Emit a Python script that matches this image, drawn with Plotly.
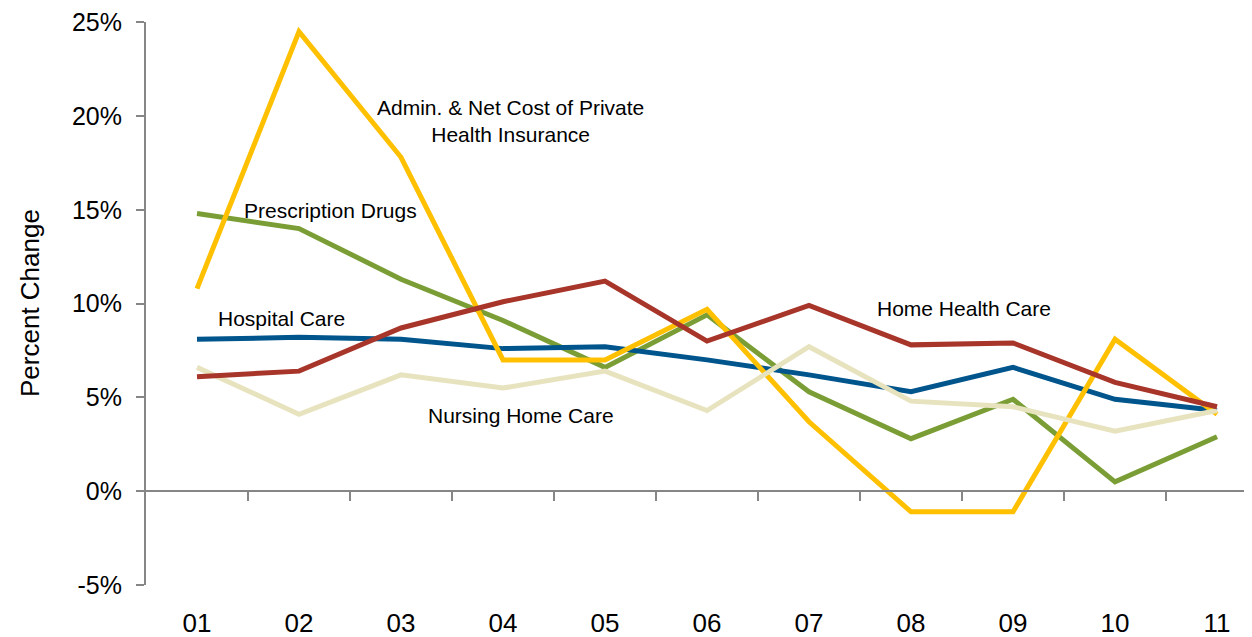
import plotly.graph_objects as go

years = ["01", "02", "03", "04", "05", "06", "07", "08", "09", "10", "11"]
hospital_care = [8.1, 8.2, 8.1, 7.6, 7.7, 7.0, 6.2, 5.3, 6.6, 4.9, 4.3]
home_health = [6.1, 6.4, 8.7, 10.1, 11.2, 8.0, 9.9, 7.8, 7.9, 5.8, 4.5]
prescription_drugs = [14.8, 14.0, 11.3, 9.1, 6.6, 9.4, 5.3, 2.8, 4.9, 0.5, 2.9]
admin_insurance = [10.8, 24.5, 17.8, 7.0, 7.0, 9.7, 3.7, -1.1, -1.1, 8.1, 4.1]
nursing_home = [6.6, 4.1, 6.2, 5.5, 6.4, 4.3, 7.7, 4.8, 4.5, 3.2, 4.3]

y_ticks = [-5, 0, 5, 10, 15, 20, 25]
y_ticktext = ["-5%", "0%", "5%", "10%", "15%", "20%", "25%"]

FONT = "Liberation Sans, Arial, sans-serif"
AXIS_GRAY = "#868686"

series = [
    ("Prescription Drugs", prescription_drugs, "#7A9E35"),
    ("Hospital Care", hospital_care, "#00558C"),
    ("Admin. & Net Cost of Private Health Insurance", admin_insurance, "#FFC000"),
    ("Nursing Home Care", nursing_home, "#E8E3BF"),
    ("Home Health Care", home_health, "#A8352A"),
]

xs = list(range(len(years)))
fig = go.Figure()
for name, vals, color in series:
    fig.add_trace(go.Scatter(x=xs, y=vals, mode="lines", name=name,
                             line=dict(color=color, width=5), showlegend=False))

# invisible trace to carry the zero-line axis with between-category ticks
fig.add_trace(go.Scatter(x=xs, y=hospital_care, xaxis="x2", mode="lines",
                         opacity=0, showlegend=False, hoverinfo="skip"))

# page body has an 8px margin, so the figure is drawn at (8, 8)
OFF = 8
L, T, B = 146 - OFF, 22 - OFF, 52
W, H = 1252 - OFF, 637 - OFF
PW, PH = W - L, H - T - B

x_range = [-0.5, 10.343]
fig.update_layout(
    width=W, height=H,
    margin=dict(l=L, r=0, t=T, b=B),
    paper_bgcolor="white", plot_bgcolor="white",
    font=dict(family=FONT, color="black"),
    xaxis=dict(range=x_range, tickvals=xs, ticktext=years, showline=False,
               showgrid=False, zeroline=False, ticks="",
               tickfont=dict(size=26), ticklabelstandoff=20,
               ticklabeloverflow="allow"),
    xaxis2=dict(range=x_range, overlaying="x", anchor="free", position=5 / 30,
                side="bottom", showline=True, linecolor=AXIS_GRAY, linewidth=2,
                ticks="outside", ticklen=9, tickwidth=2, tickcolor=AXIS_GRAY,
                tickvals=[i + 0.5 for i in range(10)], showticklabels=False,
                showgrid=False, zeroline=False),
    yaxis=dict(range=[-5, 25.01], tickvals=y_ticks, ticktext=y_ticktext,
               showline=True, linecolor=AXIS_GRAY, linewidth=2,
               ticks="outside", ticklen=8, tickwidth=2, tickcolor=AXIS_GRAY,
               showgrid=False, zeroline=False, tickfont=dict(size=25),
               ticklabelstandoff=9, ticklabeloverflow="allow"),
)

ann_font = dict(family=FONT, size=21, color="black")
annotations = [
    ("Admin. & Net Cost of Private<br>Health Insurance", 510, 121),
    ("Prescription Drugs", 330, 210),
    ("Hospital Care", 281, 318),
    ("Nursing Home Care", 521, 415),
    ("Home Health Care", 964, 308),
]
for text, px, py in annotations:
    fig.add_annotation(text=text, xref="paper", yref="paper",
                       x=(px - OFF - L) / PW, y=1 - (py - OFF - T) / PH,
                       showarrow=False, xanchor="center", yanchor="middle",
                       font=ann_font, align="center")

fig.add_annotation(text="Percent Change", xref="paper", yref="paper",
                   x=(30 - OFF - L) / PW, y=1 - (303 - OFF - T) / PH, textangle=-90,
                   showarrow=False, xanchor="center", yanchor="middle",
                   font=dict(family=FONT, size=26, color="black"))

fig.write_html("out.html")
